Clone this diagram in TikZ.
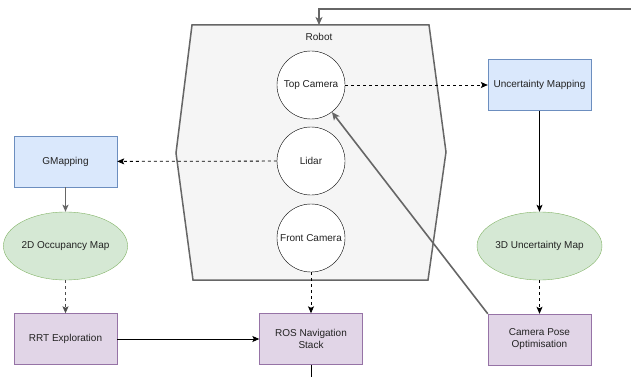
\documentclass[tikz,border=0pt]{standalone}
\usepackage{fontspec}
\setmainfont{Liberation Sans}
\usetikzlibrary{arrows.meta,shapes.geometric}
\definecolor{bluefill}{HTML}{DAE8FC}\definecolor{bluedraw}{HTML}{6C8EBF}
\definecolor{greenfill}{HTML}{D5E8D4}\definecolor{greendraw}{HTML}{82B366}
\definecolor{purplefill}{HTML}{E1D5E7}\definecolor{purpledraw}{HTML}{9673A6}
\definecolor{robotfill}{HTML}{F5F5F5}\definecolor{robotdraw}{HTML}{666666}
\definecolor{txt}{HTML}{222222}
\tikzset{
  every node/.style={font=\fontsize{10}{12}\selectfont, text=txt},
  bluebox/.style={draw=bluedraw, fill=bluefill, minimum width=103pt, minimum height=51pt, inner sep=1pt},
  purplebox/.style={draw=purpledraw, fill=purplefill, minimum width=103pt, minimum height=51pt, inner sep=1pt, align=center},
  greenell/.style={ellipse, draw=greendraw, fill=greenfill, minimum width=103pt, minimum height=68pt, inner sep=0pt},
  sensor/.style={circle, draw=black, fill=white, minimum size=68pt, inner sep=0pt},
  arr/.style={-{Stealth[length=7pt,width=6pt,inset=1.5pt]}, line width=0.8pt, black},
  darr/.style={arr, dashed, dash pattern=on 3pt off 3pt},
  grayarr/.style={-{Stealth[length=8pt,width=7pt,inset=2pt]}, line width=1.6pt, robotdraw},
}
\begin{document}
\begin{tikzpicture}[x=1pt,y=-1pt]
\useasboundingbox (0,0) rectangle (631,377);
% robot body
\draw[draw=robotdraw, fill=robotfill, line width=1.5pt]
  (192,25) -- (429,25) -- (446,152) -- (428,280) -- (193,280) -- (176,153) -- cycle;
\node (robotlbl) at (319,37) {Robot};
\coordinate (robottop) at (319,25);
\coordinate (feed) at (631,9);
\coordinate (navout) at (311,377);

\node[sensor] (topcam) at (311,85) {Top Camera};
\node[sensor] (lidar) at (311,161) {Lidar};
\node[sensor] (frontcam) at (311,238) {Front Camera};

\node[bluebox] (gmap) at (65.5,161.5) {GMapping};
\node[greenell] (occ) at (65.5,246) {2D Occupancy Map};
\node[purplebox] (rrt) at (65.5,339) {RRT Exploration};

\node[purplebox] (ros) at (311,339) {ROS Navigation\\Stack};

\node[bluebox] (umap) at (539.5,85) {Uncertainty Mapping};
\node[greenell] (u3d) at (539.5,246) {3D Uncertainty Map};
\node[purplebox] (cpo) at (539.5,339.5) {Camera Pose\\Optimisation};

% connectors
\draw[grayarr, line width=1.3pt] (feed) -- (319,9) -- (robottop);
\draw[darr] (topcam) -- (umap);
\draw[darr] (lidar) -- (gmap);
\draw[arr, robotdraw, line width=1.3pt] (gmap) -- (occ);
\draw[darr, black!70] (occ) -- (rrt);
\draw[arr] (rrt) -- (ros);
\draw[darr] (frontcam) -- (ros);
\draw[line width=0.8pt] (ros.south) -- (navout);
\draw[arr] (umap) -- (u3d);
\draw[darr] (u3d) -- (cpo);
\draw[grayarr] (cpo.north west) -- (topcam);
\end{tikzpicture}
\end{document}
